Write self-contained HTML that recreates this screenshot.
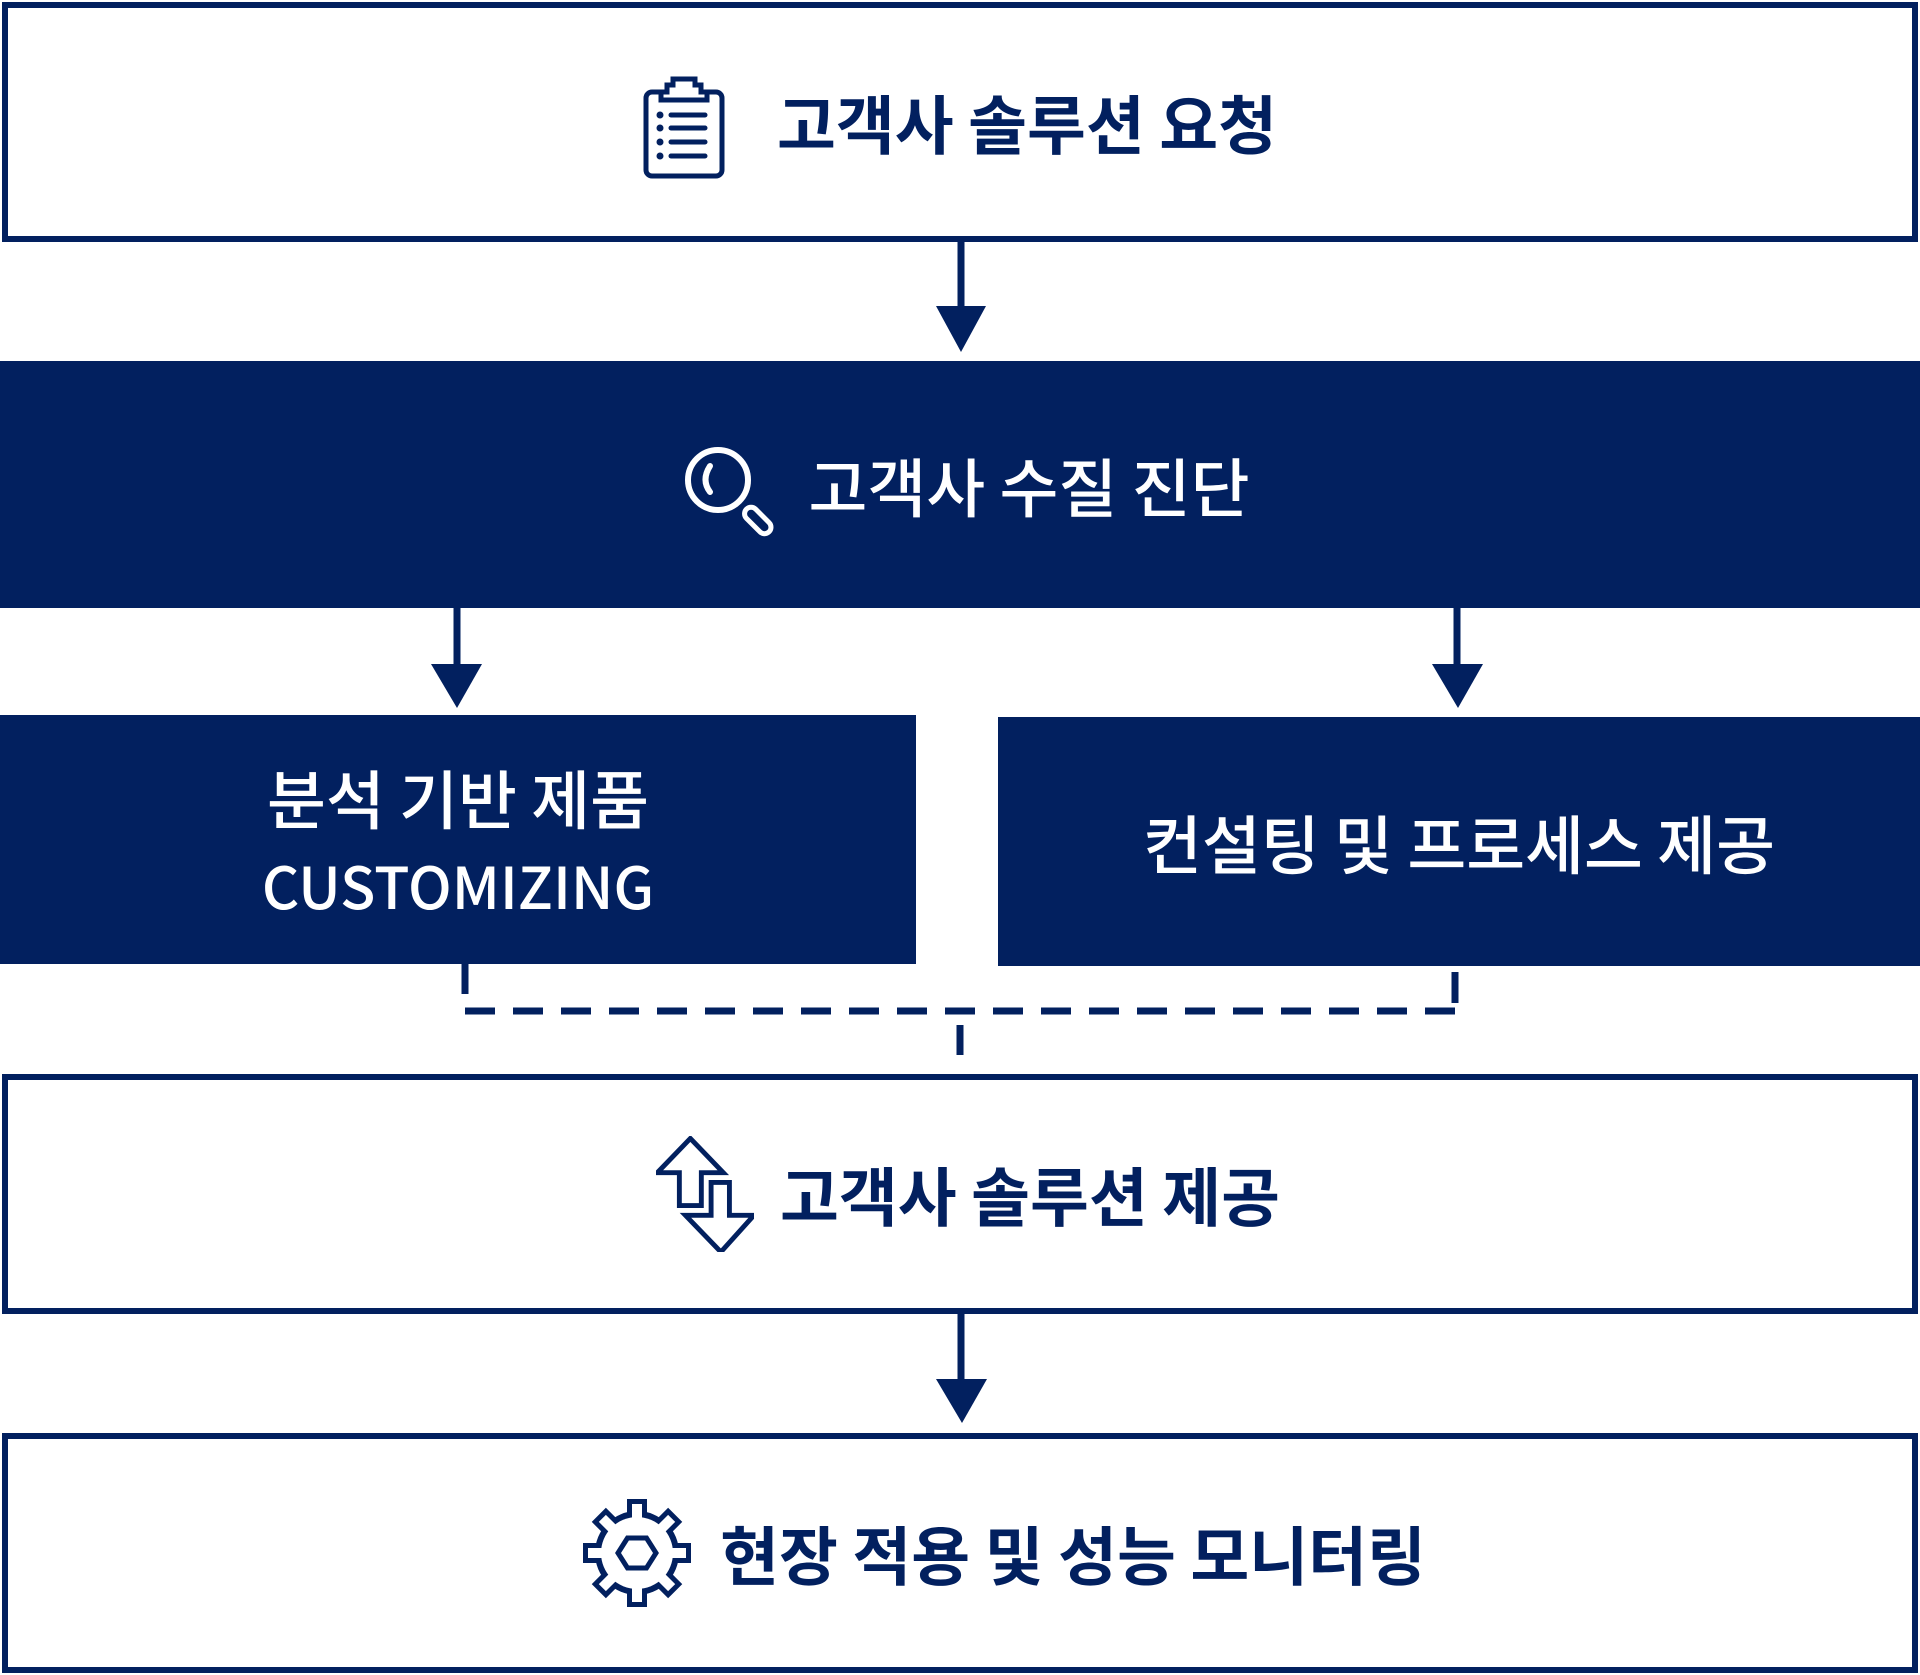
<!DOCTYPE html>
<html><head><meta charset="utf-8"><style>
html,body{margin:0;padding:0;}
body{width:1920px;height:1675px;position:relative;background:#fff;font-family:"Liberation Sans","Noto Sans CJK KR",sans-serif;overflow:hidden;}
.box{position:absolute;box-sizing:border-box;display:flex;align-items:center;justify-content:center;}
.w{border:6px solid #02205f;background:#fff;color:#02205f;}
.d{background:#02205f;color:#fff;}
.t{font-size:64px;font-weight:bold;font-family:"Noto Sans CJK KR",sans-serif;line-height:1;white-space:nowrap;}
.m{font-size:64px;font-weight:500;}
svg.a{position:absolute;left:0;top:0;}
</style></head><body>
<div class="box w" style="left:2px;top:2px;width:1916px;height:240px;">
 <svg width="82" height="104" viewBox="0 0 82 104" style="margin-right:52px;margin-top:10px" fill="none" stroke="#02205f" stroke-width="5"><rect x="3" y="17" width="76" height="84" rx="6"/><path d="M18 17v8h46v-8h-6v-7h-6v-6h-22v6h-6v7z" fill="#fff"/><g stroke-linecap="round"><line x1="28" y1="40" x2="62" y2="40"/><line x1="28" y1="53" x2="62" y2="53"/><line x1="28" y1="67" x2="62" y2="67"/><line x1="28" y1="81" x2="62" y2="81"/></g><g fill="#02205f" stroke="none"><circle cx="17" cy="40" r="3.5"/><circle cx="17" cy="53" r="3.5"/><circle cx="17" cy="67" r="3.5"/><circle cx="17" cy="81" r="3.5"/></g></svg>
 <span class="t">고객사 솔루션 요청</span>
</div>
<div class="box d" style="left:0;top:361px;width:1920px;height:247px;">
 <svg width="110" height="110" viewBox="0 0 110 110" style="margin-right:28px;margin-top:6px" fill="none" stroke="#fff" stroke-width="6"><circle cx="47" cy="47" r="30"/><path d="M39 33q-9 14 0 26" stroke-linecap="round"/><g transform="rotate(45 85 85)"><rect x="72" y="79" width="32" height="13" rx="6.5" stroke-width="5"/></g></svg>
 <span class="t m">고객사 수질 진단</span>
</div>
<div class="box d" style="left:0;top:715px;width:916px;height:249px;flex-direction:column;">
 <span class="t m" style="margin-top:-2px">분석 기반 제품</span>
 <span style="font-size:58px;font-family:'Noto Sans CJK KR',sans-serif;font-weight:500;line-height:1;margin-top:26px">CUSTOMIZING</span>
</div>
<div class="box d" style="left:998px;top:717px;width:922px;height:249px;">
 <span class="t m">컨설팅 및 프로세스 제공</span>
</div>
<div class="box w" style="left:2px;top:1074px;width:1916px;height:240px;">
 <svg width="98" height="116" viewBox="0 0 80 95" style="margin-left:16px;margin-right:26px" fill="none" stroke="#02205f" stroke-width="4" stroke-linejoin="miter"><path d="M28 2L1 30h18v27h18v-27h18z" fill="#fff"/><path d="M45 38v27h-21l29 30 27-30h-20v-27z" fill="#fff"/></svg>
 <span class="t">고객사 솔루션 제공</span>
</div>
<div class="box w" style="left:2px;top:1433px;width:1916px;height:240px;">
 <svg width="110" height="110" viewBox="-55 -55 110 110" style="margin-left:88px;margin-right:28px">
  <g fill="#02205f"><circle r="42"/>
   <g id="tn"><rect x="-10" y="-54" width="20" height="24"/></g>
   <use href="#tn" transform="rotate(45)"/><use href="#tn" transform="rotate(90)"/><use href="#tn" transform="rotate(135)"/><use href="#tn" transform="rotate(180)"/><use href="#tn" transform="rotate(225)"/><use href="#tn" transform="rotate(270)"/><use href="#tn" transform="rotate(315)"/>
  </g>
  <g fill="#fff"><circle r="36"/>
   <g id="tw"><rect x="-5" y="-49" width="10" height="20"/></g>
   <use href="#tw" transform="rotate(45)"/><use href="#tw" transform="rotate(90)"/><use href="#tw" transform="rotate(135)"/><use href="#tw" transform="rotate(180)"/><use href="#tw" transform="rotate(225)"/><use href="#tw" transform="rotate(270)"/><use href="#tw" transform="rotate(315)"/>
  </g>
  <polygon points="-19,0 -9.5,-15 9.5,-15 19,0 9.5,15 -9.5,15" fill="none" stroke="#02205f" stroke-width="5"/>
 </svg>
 <span class="t">현장 적용 및 성능 모니터링</span>
</div>
<svg class="a" width="1920" height="1675">
 <g stroke="#02205f" stroke-width="7" fill="none">
  <line x1="961" y1="240" x2="961" y2="308"/>
  <line x1="457" y1="607" x2="457" y2="666"/>
  <line x1="1457" y1="607" x2="1457" y2="666"/>
  <line x1="961" y1="1313" x2="961" y2="1381"/>
  <line x1="465" y1="964" x2="465" y2="994"/>
  <line x1="1455" y1="972" x2="1455" y2="1003"/>
  <line x1="465" y1="1011" x2="1455" y2="1011" stroke-dasharray="30,18"/>
  <line x1="960" y1="1011" x2="960" y2="1070" stroke-dasharray="30,18" stroke-dashoffset="-14"/>
 </g>
 <g fill="#02205f">
  <polygon points="936,306 986,306 961,352"/>
  <polygon points="431,664 482,664 457,708"/>
  <polygon points="1432,664 1483,664 1458,708"/>
  <polygon points="936,1379 987,1379 962,1423"/>
 </g>
</svg>
</body></html>
